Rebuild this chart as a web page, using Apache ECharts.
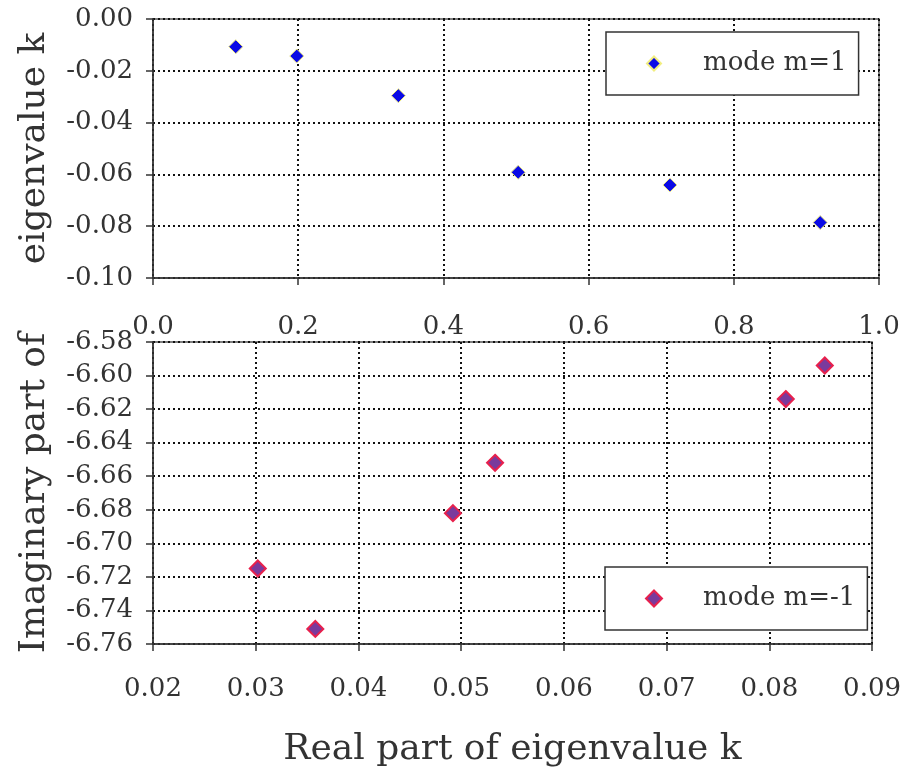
<!DOCTYPE html>
<html>
<head>
<meta charset="utf-8">
<script src="https://cdn.jsdelivr.net/npm/echarts@6/dist/echarts.min.js"></script>
<style>
    html, body { margin: 0; padding: 0; background: #fff; }
    #chart { width: 904px; height: 776px; }
</style>
</head>
<body>
<div id="chart"></div>
<script>
// mode m=1 (upper panel)
var reM1 = [0.114, 0.198, 0.338, 0.503, 0.712, 0.919];
var imM1 = [-0.0107, -0.0143, -0.0296, -0.0592, -0.0641, -0.0786];
// mode m=-1 (lower panel)
var reMm1 = [0.0302, 0.0358, 0.0492, 0.0533, 0.0816, 0.0854];
var imMm1 = [-6.715, -6.751, -6.682, -6.652, -6.614, -6.594];

var seriesNames = ['mode m=1', 'mode m=-1'];

function pairs(xs, ys) {
    var out = [];
    for (var i = 0; i < xs.length; i++) out.push([xs[i], ys[i]]);
    return out;
}

var FONT = '"DejaVu Serif", serif';
var gridLine = {show: true, lineStyle: {color: '#111', width: 2, type: [2, 3]}};
var axisLine = {show: true, onZero: false, lineStyle: {color: '#333', width: 1.5}};
var tick = {show: true, length: 7, lineStyle: {color: '#333', width: 1.5}};

function legendBox(name, top, size, padRight) {
    var pad = (68 - 31) / 2;
    return {
        data: [name], left: 607 + 46 - size / 2 - 40, top: top,
        icon: 'diamond', itemWidth: size, itemHeight: size,
        backgroundColor: '#fff', borderColor: '#333', borderWidth: 1.5,
        padding: [pad, padRight, pad, 40],
        textStyle: {fontFamily: FONT, fontSize: 26, color: '#333', padding: [0, 0, 0, 44 - size / 2]}
    };
}

var chart = echarts.init(document.getElementById('chart'));

chart.setOption({
    animation: false,
    backgroundColor: '#fff',
    textStyle: {fontFamily: FONT},
    grid: [
        {left: 153, top: 19, width: 726, height: 259, show: true, borderColor: '#555', borderWidth: 1.5},
        {left: 153, top: 342, width: 726, height: 302, show: true, borderColor: '#555', borderWidth: 1.5}
    ],
    xAxis: [
        {
            gridIndex: 0, type: 'value', min: 0, max: 1, interval: 0.2,
            axisLine: axisLine, axisTick: tick, splitLine: gridLine,
            axisLabel: {
                margin: 36, fontFamily: FONT, fontSize: 26, color: '#333',
                formatter: function (v) { return v.toFixed(1); }
            }
        },
        {
            gridIndex: 1, type: 'value', min: 0.02, max: 0.09, interval: 0.01,
            axisLine: axisLine, axisTick: tick, splitLine: gridLine,
            axisLabel: {
                margin: 32, fontFamily: FONT, fontSize: 26, color: '#333',
                formatter: function (v) { return v.toFixed(2); }
            },
            name: 'Real part of eigenvalue k', nameLocation: 'middle', nameGap: 88,
            nameTextStyle: {fontFamily: FONT, fontSize: 36, color: '#333'}
        }
    ],
    yAxis: [
        {
            gridIndex: 0, type: 'value', min: -0.1, max: 0, interval: 0.02,
            axisLine: axisLine, axisTick: tick, splitLine: gridLine,
            axisLabel: {
                margin: 20, fontFamily: FONT, fontSize: 26, color: '#333',
                formatter: function (v) { return v.toFixed(2); }
            },
            name: 'eigenvalue k', nameLocation: 'middle', nameGap: 100,
            nameTextStyle: {fontFamily: FONT, fontSize: 36, color: '#333'}
        },
        {
            gridIndex: 1, type: 'value', min: -6.76, max: -6.58, interval: 0.02,
            axisLine: axisLine, axisTick: tick, splitLine: gridLine,
            axisLabel: {
                margin: 20, fontFamily: FONT, fontSize: 26, color: '#333',
                formatter: function (v) { return v.toFixed(2); }
            },
            name: 'Imaginary part of', nameLocation: 'middle', nameGap: 100,
            nameTextStyle: {fontFamily: FONT, fontSize: 36, color: '#333'}
        }
    ],
    legend: [
        legendBox(seriesNames[0], 32, 14, 12),
        legendBox(seriesNames[1], 567, 16, 12)
    ],
    series: [
        {
            name: seriesNames[0], type: 'scatter', xAxisIndex: 0, yAxisIndex: 0,
            symbol: 'diamond', symbolSize: 14,
            itemStyle: {color: '#0a0ae6', borderColor: '#f2ee80', borderWidth: 1, opacity: 1},
            data: pairs(reM1, imM1)
        },
        {
            name: seriesNames[1], type: 'scatter', xAxisIndex: 1, yAxisIndex: 1,
            symbol: 'diamond', symbolSize: 16,
            itemStyle: {color: '#7a3a9c', borderColor: '#e8204c', borderWidth: 2, opacity: 1},
            data: pairs(reMm1, imMm1)
        }
    ]
});

window.onresize = function () {
    chart.resize();
};
</script>
</body>
</html>
